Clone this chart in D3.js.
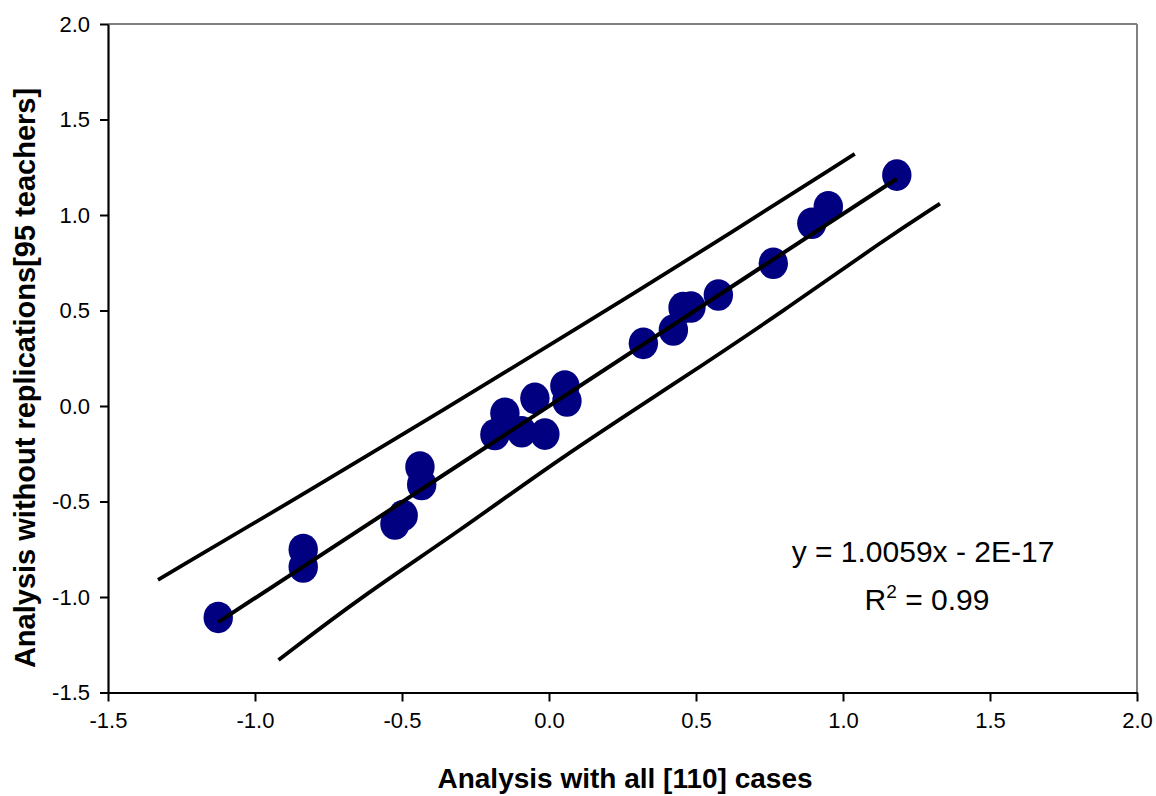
<!DOCTYPE html>
<html lang="en">

<head>
    <meta charset="UTF-8">
    <title>Analysis with all cases vs without replications</title>
    <script src="https://d3js.org/d3.v7.min.js"></script>
    <style>
        body { margin: 0; background: #fff; }
        text { font-family: Arial, "Liberation Sans", sans-serif; }
    </style>
</head>

<body>
    <script>
        // scatter points
        var xAll = [-1.125, -0.836, -0.836, -0.524, -0.496, -0.439, -0.433, -0.184, -0.150, -0.093, -0.014,
            -0.048, 0.054, 0.061, 0.321, 0.423, 0.456, 0.483, 0.576, 0.763, 0.894, 0.950, 1.183];
        var yNoRep = [-1.107, -0.751, -0.843, -0.618, -0.573, -0.319, -0.411, -0.149, -0.038, -0.135, -0.147,
            0.040, 0.105, 0.026, 0.328, 0.398, 0.515, 0.518, 0.581, 0.747, 0.957, 1.043, 1.209];

        // the two band lines either side of the trend
        var upperX = [-1.33, -0.79, -0.37, 0.12, 0.53, 1.04];
        var upperY = [-0.91, -0.42, -0.03, 0.43, 0.82, 1.32];
        var lowerX = [-0.92, -0.64, -0.30, 0.03, 0.46, 0.80, 1.14, 1.33];
        var lowerY = [-1.33, -1.00, -0.65, -0.28, 0.15, 0.50, 0.87, 1.06];

        var slope = 1.0059;
        var intercept = -2e-17;
        var xTicks = [-1.5, -1.0, -0.5, 0.0, 0.5, 1.0, 1.5, 2.0];
        var yTicks = [-1.5, -1.0, -0.5, 0.0, 0.5, 1.0, 1.5, 2.0];

        var width = 1156;
        var height = 796;
        var margin = { left: 108, top: 24, right: 19, bottom: 103.5 };
        var plotW = width - margin.left - margin.right;
        var plotH = height - margin.top - margin.bottom;

        var svg = d3.select("body")
            .append("svg")
            .attr("width", width)
            .attr("height", height)
            .style("background-color", "#fff");

        var x = d3.scaleLinear().domain([-1.5, 2.0]).range([0, plotW]);
        var y = d3.scaleLinear().domain([-1.5, 2.0]).range([plotH, 0]);
        var fmt = function (d) { return d3.format(".1f")(d).replace("\u2212", "-"); };

        var g = svg.append("g")
            .attr("transform", "translate(" + margin.left + "," + margin.top + ")");

        // grey frame on top and right
        g.append("line").attr("x1", 0).attr("x2", plotW).attr("y1", 0).attr("y2", 0)
            .attr("stroke", "#808080").attr("stroke-width", 2);
        g.append("line").attr("x1", plotW).attr("x2", plotW).attr("y1", 0).attr("y2", plotH)
            .attr("stroke", "#808080").attr("stroke-width", 2);

        var xAxis = g.append("g")
            .attr("transform", "translate(0," + plotH + ")")
            .call(d3.axisBottom(x).tickValues(xTicks).tickFormat(fmt).tickSize(9).tickSizeOuter(0));
        var yAxis = g.append("g")
            .call(d3.axisLeft(y).tickValues(yTicks).tickFormat(fmt).tickSize(8).tickSizeOuter(0));

        [xAxis, yAxis].forEach(function (ax) {
            ax.select(".domain").attr("stroke", "#000").attr("stroke-width", 2.2);
            ax.selectAll(".tick line").attr("stroke", "#000").attr("stroke-width", 2);
            ax.selectAll(".tick text")
                .attr("fill", "#000")
                .style("font-size", "22px")
                .style("font-family", "Arial, 'Liberation Sans', sans-serif");
        });
        xAxis.selectAll(".tick text").attr("y", 20);
        yAxis.selectAll(".tick text").attr("x", -18);

        // markers
        var pts = xAll.map(function (v, i) { return { x: v, y: yNoRep[i] }; });
        g.selectAll("ellipse.pt")
            .data(pts)
            .enter()
            .append("ellipse")
            .attr("class", "pt")
            .attr("cx", function (d) { return x(d.x); })
            .attr("cy", function (d) { return y(d.y); })
            .attr("rx", 14.7)
            .attr("ry", 15.8)
            .attr("fill", "#000080");

        var line = d3.line()
            .x(function (d) { return x(d[0]); })
            .y(function (d) { return y(d[1]); })
            .curve(d3.curveBasis);

        // band lines
        [[upperX, upperY], [lowerX, lowerY]].forEach(function (b) {
            g.append("path")
                .datum(b[0].map(function (v, i) { return [v, b[1][i]]; }))
                .attr("d", line)
                .attr("fill", "none")
                .attr("stroke", "#000")
                .attr("stroke-width", 3.8);
        });

        // linear trend over the data range
        var ext = d3.extent(xAll);
        g.append("line")
            .attr("x1", x(ext[0])).attr("y1", y(slope * ext[0] + intercept))
            .attr("x2", x(ext[1])).attr("y2", y(slope * ext[1] + intercept))
            .attr("stroke", "#000")
            .attr("stroke-width", 4);

        // equation
        g.append("text")
            .attr("x", 923 - margin.left)
            .attr("y", 562 - margin.top)
            .attr("text-anchor", "middle")
            .style("font-size", "30px")
            .text("y = 1.0059x - 2E-17");
        var r2 = g.append("text")
            .attr("x", 927 - margin.left)
            .attr("y", 610 - margin.top)
            .attr("text-anchor", "middle")
            .style("font-size", "30px");
        r2.append("tspan").text("R");
        r2.append("tspan").attr("dy", -12).style("font-size", "19px").text("2");
        r2.append("tspan").attr("dy", 12).text(" = 0.99");

        // axis titles
        svg.append("text")
            .attr("x", 625)
            .attr("y", 788)
            .attr("text-anchor", "middle")
            .style("font-size", "28px")
            .style("font-weight", "bold")
            .text("Analysis with all [110] cases");
        svg.append("text")
            .attr("transform", "translate(35," + 378 + ") rotate(-90)")
            .attr("text-anchor", "middle")
            .style("font-size", "29px")
            .style("font-weight", "bold")
            .text("Analysis without replications[95 teachers]");
    </script>
</body>

</html>
